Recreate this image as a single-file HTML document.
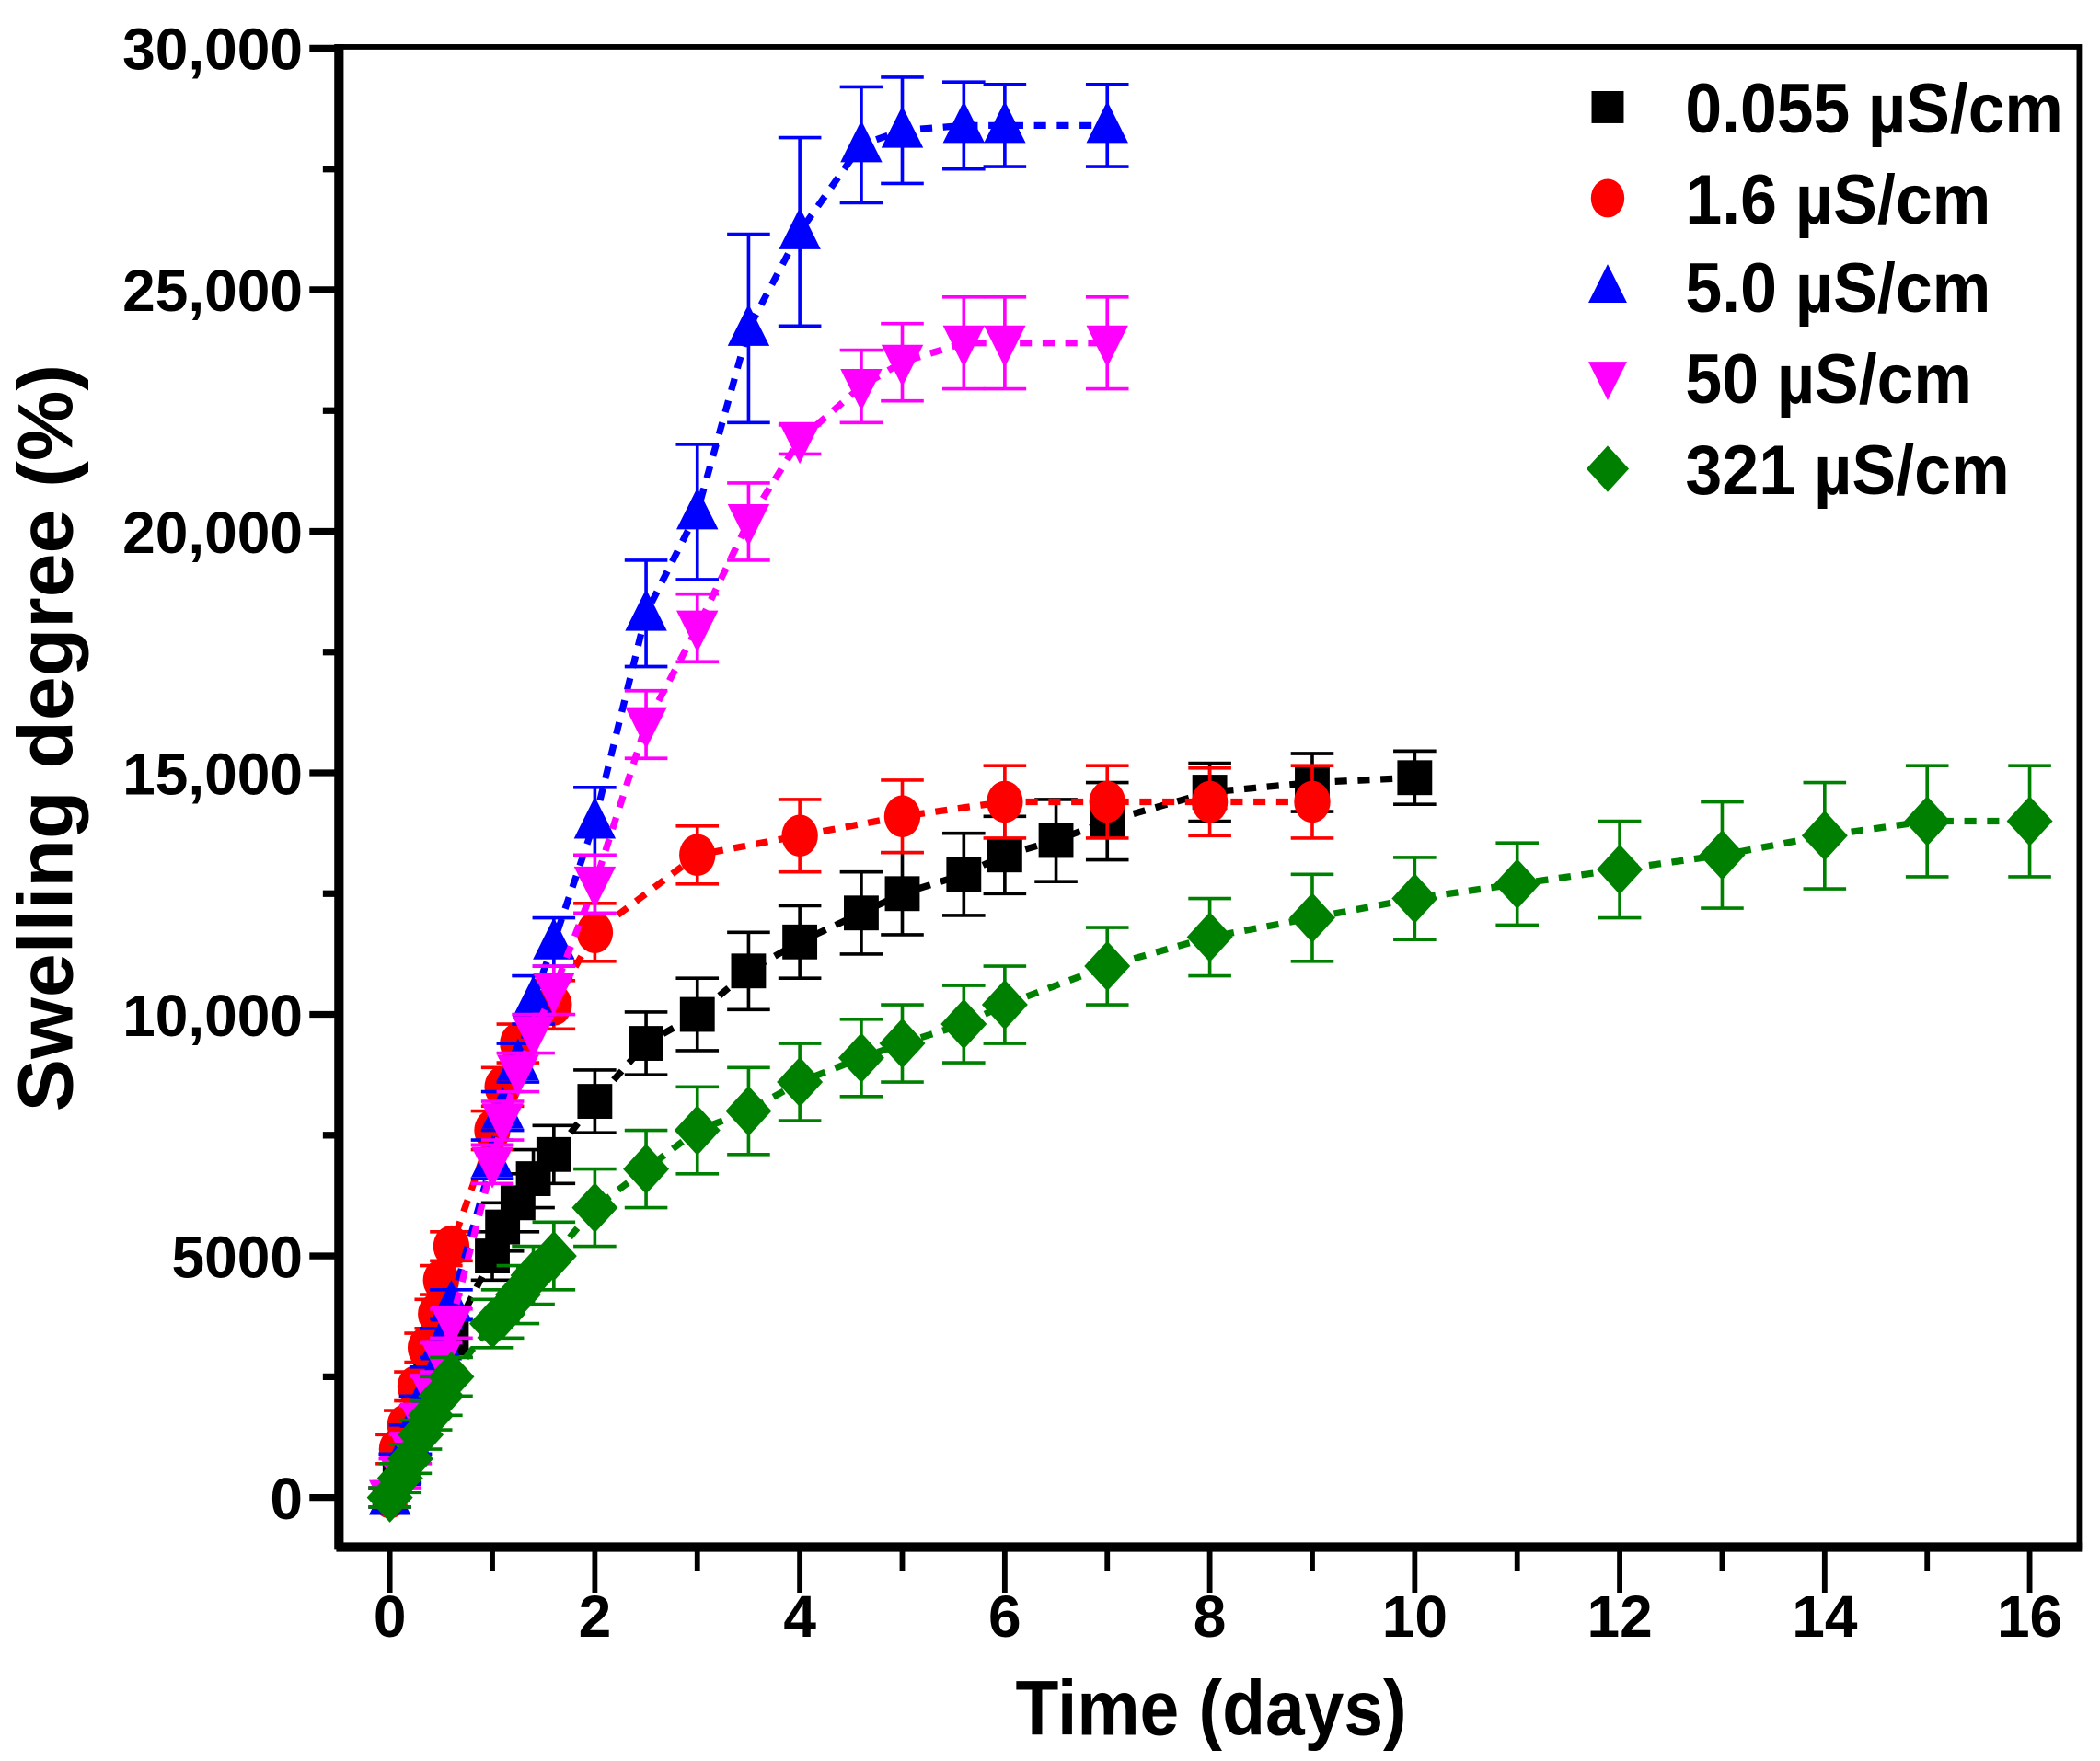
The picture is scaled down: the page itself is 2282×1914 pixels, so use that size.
<!DOCTYPE html>
<html><head><meta charset="utf-8"><style>
html,body{margin:0;padding:0;background:#fff;}
svg{display:block;}
text{font-family:"Liberation Sans",Arial,sans-serif;font-weight:bold;fill:#000;}
</style></head><body>
<svg id="chart" width="2282" height="1914" viewBox="0 0 1567.5 1314.7" preserveAspectRatio="xMinYMin meet" xmlns="http://www.w3.org/2000/svg">
<g id="grid"></g>
<g id="series"></g>
<g id="axes"></g>
<g id="legend"></g>
</svg>
<script>
const xTicks = [0,2,4,6,8,10,12,14,16];
const yTicks = [0,5000,10000,15000,20000,25000,30000];
const yTickLabels = ["0","5000","10,000","15,000","20,000","25,000","30,000"];
const seriesNames = ["0.055 µS/cm","1.6 µS/cm","5.0 µS/cm","50 µS/cm","321 µS/cm"];
const seriesColors = ["#000000","#ff0000","#0000ff","#ff00ff","#008000"];
const seriesShapes = ["square","circle","up","down","diamond"];
const tBlack = [0,0.1,0.2,0.3,0.4,0.5,0.6,1,1.1,1.25,1.4,1.6,2,2.5,3,3.5,4,4.6,5,5.6,6,6.5,7,8,9,10];
const vBlack = [0,600,1200,1800,2400,2900,3300,5000,5600,6100,6600,7100,8200,9400,10000,10900,11500,12100,12500,12900,13300,13600,14000,14600,14800,14900];
const eBlack = [200,300,300,300,400,400,400,500,500,600,600,600,650,650,750,800,750,850,850,850,800,850,800,600,600,550];
const tRed = [0,0.07,0.15,0.25,0.35,0.45,0.5,0.6,1,1.1,1.25,1.6,2,3,4,5,6,7,8,9];
const vRed = [0,1000,1500,2300,3100,3800,4500,5200,7600,8500,9400,10200,11700,13300,13700,14100,14400,14400,14400,14400];
const eRed = [200,300,300,300,300,300,300,300,400,400,400,500,600,600,750,750,750,750,700,750];
const tBlue = [0,0.1,0.2,0.3,0.4,0.5,0.6,1,1.1,1.25,1.4,1.6,2,2.5,3,3.5,4,4.6,5,5.6,6,7];
const vBlue = [0,600,1200,1800,2400,3200,4000,7000,8000,9000,10300,11500,14000,18300,20400,24200,26200,28000,28300,28400,28400,28400];
const eBlue = [200,300,300,300,300,300,300,400,400,400,500,500,700,1100,1400,1950,1950,1200,1100,900,850,850];
const tMag = [0,0.1,0.2,0.3,0.4,0.5,0.6,1,1.1,1.25,1.4,1.6,2,2.5,3,3.5,4,4.6,5,5.6,6,7];
const vMag = [0,500,1000,1600,2200,2900,3600,6900,7800,8800,9600,10500,12700,16000,18000,20200,21900,23000,23500,23900,23900,23900];
const eMag = [200,300,300,300,300,300,300,400,400,400,400,500,600,700,700,800,300,750,800,950,950,950];
const tGreen = [0,0.1,0.2,0.3,0.4,0.5,0.6,1,1.1,1.25,1.4,1.6,2,2.5,3,3.5,4,4.6,5,5.6,6,7,8,9,10,11,12,13,14,15,16];
const vGreen = [0,400,800,1300,1700,2100,2500,3600,3800,4200,4600,5000,6000,6800,7600,8000,8600,9100,9400,9800,10200,11000,11600,12000,12400,12700,13000,13300,13700,14000,14000];
const eGreen = [200,300,300,300,300,400,400,500,500,600,600,700,800,800,900,900,800,800,800,800,800,800,800,900,850,850,1000,1100,1100,1150,1150];
const allT = [tBlack,tRed,tBlue,tMag,tGreen];
const allV = [vBlack,vRed,vBlue,vMag,vGreen];
const allE = [eBlack,eRed,eBlue,eMag,eGreen];

const NS = "http://www.w3.org/2000/svg";
const L=253, R=1552, T=35, B=1155;
const X0=291, X1=1515, Y0=1118, Y1=36;
function xs(d){return X0+(d-0)/(16-0)*(X1-X0);}
function ys(v){return Y0+(v-0)/(30000-0)*(Y1-Y0);}
function mk(tag, attrs, parent){const e=document.createElementNS(NS,tag);for(const k in attrs)e.setAttribute(k,attrs[k]);parent.appendChild(e);return e;}
const axes=document.getElementById('axes'), series=document.getElementById('series'), legend=document.getElementById('legend');

function marker(shape,x,y,color,parent,size){
  const s=size;
  if(shape==='square') return mk('rect',{x:x-s*0.5,y:y-s*0.5,width:s,height:s,fill:color},parent);
  if(shape==='circle') return mk('ellipse',{cx:x,cy:y,rx:s*0.52,ry:s*0.6,fill:color},parent);
  if(shape==='up') return mk('polygon',{points:`${x},${y-s*0.7} ${x-s*0.6},${y+s*0.5} ${x+s*0.6},${y+s*0.5}`,fill:color},parent);
  if(shape==='down') return mk('polygon',{points:`${x},${y+s*0.7} ${x-s*0.6},${y-s*0.5} ${x+s*0.6},${y-s*0.5}`,fill:color},parent);
  return mk('polygon',{points:`${x},${y-s*0.72} ${x+s*0.66},${y} ${x},${y+s*0.72} ${x-s*0.66},${y}`,fill:color},parent);
}

for(let i=0;i<allT.length;i++){
  const g=mk('g',{},series);
  
  
  const pts=allT[i].map((t,j)=>xs(t)+','+ys(allV[i][j])).join(' ');
  const line=mk('polyline',{points:pts,fill:'none',stroke:seriesColors[i],'stroke-width':5,'stroke-dasharray':'9,8'},g);
  
  
  for(let j=0;j<allT[i].length;j++){
    const x=xs(allT[i][j]), y=ys(allV[i][j]), e=allE[i][j];
    const yt=ys(allV[i][j]+e), yb=ys(allV[i][j]-e);
    const eb=mk('path',{d:`M${x},${yt}V${yb}M${x-16},${yt}H${x+16}M${x-16},${yb}H${x+16}`,stroke:seriesColors[i],'stroke-width':2.5,fill:'none'},g);
    
    
    const m=marker(seriesShapes[i],x,y,seriesColors[i],g,26);
    
    
  }
}

const frame=mk('rect',{x:L,y:T,width:R-L,height:B-T,fill:'none',stroke:'#000','stroke-width':4},axes);


const xl=mk('line',{x1:L-2,y1:B,x2:R+2,y2:B,stroke:'#000','stroke-width':7},axes);


const yl=mk('line',{x1:L,y1:T-2,x2:L,y2:B+2,stroke:'#000','stroke-width':7},axes);



for(let d=0; d<=16; d++){
  const x=xs(d), major=(d%2===0);
  const tk=mk('line',{x1:x,y1:B,x2:x,y2:B+(major?34:18),stroke:'#000','stroke-width':4},axes);
  
  
}
xTicks.forEach(d=>{
  const t=mk('text',{x:xs(d),y:1222,'text-anchor':'middle','font-size':44},axes);
  t.textContent=String(d);
  
  
});
for(let v=0; v<=30000; v+=2500){
  const y=ys(v), major=(v%5000===0);
  const tk=mk('line',{x1:L,y1:y,x2:L-(major?22:12),y2:y,stroke:'#000','stroke-width':5},axes);
  
  
}
yTicks.forEach((v,i)=>{
  const t=mk('text',{x:226,y:ys(v)+16,'text-anchor':'end','font-size':44},axes);
  t.textContent=yTickLabels[i];
  
  
});
const xt=mk('text',{x:904,y:1295,'text-anchor':'middle','font-size':58,textLength:292,lengthAdjust:'spacingAndGlyphs'},axes);
xt.textContent='Time (days)';


const yt=mk('text',{x:0,y:0,'text-anchor':'middle','font-size':58,textLength:558,lengthAdjust:'spacingAndGlyphs',transform:'translate(54,551) rotate(-90)'},axes);
yt.textContent='Swelling degree (%)';



const legY=[80,148,214,282,350];
const legW=[282,228,228,214,242];
seriesNames.forEach((n,i)=>{
  const g=mk('g',{},legend);
  
  
  marker(seriesShapes[i],1200,legY[i],seriesColors[i],g,24);
  const t=mk('text',{x:1258,y:legY[i]+19,'font-size':52,textLength:legW[i],lengthAdjust:'spacingAndGlyphs'},g);
  t.textContent=n;
});
</script>
</body></html>
